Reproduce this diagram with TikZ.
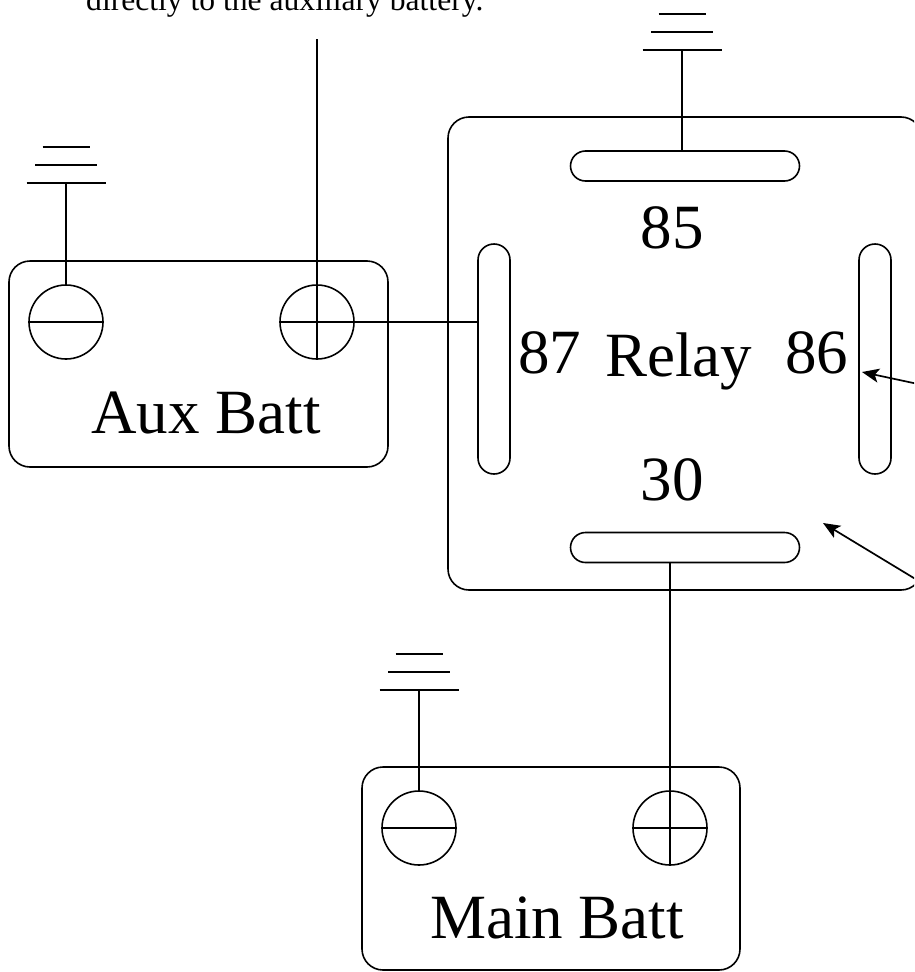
\documentclass[tikz,border=0pt]{standalone}
\usepackage{fontspec}
\setmainfont{Liberation Serif}
\usetikzlibrary{arrows.meta}
\begin{document}
\begin{tikzpicture}[x=1pt,y=-1pt,
  lw/.style={line width=1.6pt},
  box/.style={draw,lw,rectangle,rounded corners=21pt,inner sep=0pt},
  pinh/.style={draw,lw,rectangle,rounded corners=15pt,minimum width=229pt,minimum height=30pt,inner sep=0pt},
  pinv/.style={draw,lw,rectangle,rounded corners=16pt,minimum width=32pt,minimum height=230pt,inner sep=0pt},
  term/.style={draw,lw,circle,minimum size=74pt,inner sep=0pt},
  big/.style={inner sep=0pt,font=\fontsize{63}{70}\selectfont},
  wire/.style={lw},
  pointer/.style={line width=1.7pt,-{Stealth[length=17pt,width=14pt,inset=4pt]}},
  gnd/.pic={\draw[lw] (-39.5,0)--(39.5,0) (-31,-18)--(31,-18) (-23.5,-36)--(23.5,-36);}
]
\useasboundingbox (0,0) rectangle (914,972);
\clip (0,0) rectangle (914,972);

% top text (cut by the picture's upper edge, as in the reference)
\node[anchor=base west,inner sep=0pt,font=\fontsize{31.6}{36}\selectfont] (note) at (86,10) {directly to the auxiliary battery.};

% boxes
\node[box,minimum width=379pt,minimum height=206pt] (aux) at (198.5,364) {};
\node[box,minimum width=474pt,minimum height=473pt] (relay) at (685,353.5) {};
\node[box,minimum width=378pt,minimum height=203pt] (main) at (551,868.5) {};

% relay pins
\node[pinh] (p85) at (685,166) {};
\node[pinh] (p30) at (685,547.5) {};
\node[pinv] (p87) at (494,359) {};
\node[pinv] (p86) at (875,359) {};

% relay labels
\node[big,anchor=base] (l85) at (672,248) {85};
\node[big,anchor=base] (l30) at (672,500) {30};
\node[big,anchor=base west] (l87) at (518,373) {87};
\node[big,anchor=base west] (lrelay) at (605,376) {Relay};
\node[big,anchor=base west] (l86) at (785,373) {86};

% battery labels
\node[big,anchor=base] (laux) at (206,433) {Aux Batt};
\node[big,anchor=base] (lmain) at (557,938) {Main Batt};

% terminals
\node[term] (aneg) at (66,322) {};
\node[term] (apos) at (317,322) {};
\node[term] (mneg) at (419,828) {};
\node[term] (mpos) at (670,828) {};
\draw[wire] (aneg.west)--(aneg.east);
\draw[wire] (mneg.west)--(mneg.east);
\draw[wire] (mpos.west)--(mpos.east);
\draw[wire] (mpos.north)--(mpos.south);

% grounds
\coordinate (gA) at (66,183);
\coordinate (gR) at (682,50);
\coordinate (gM) at (419,690);
\pic at (gA) {gnd};
\pic at (gR) {gnd};
\pic at (gM) {gnd};
\draw[wire] (gA) -- (aneg.north);
\draw[wire] (gR) -- (gR |- p85.north);
\draw[wire] (gM) -- (mneg.north);

% aux positive wires
\coordinate (topw) at (317,39);
\draw[wire] (topw) -- (apos.south);
\draw[wire] (apos.west) -- (apos.west -| p87.west);

% pin 30 to main positive
\draw[wire] (p30.south -| mpos) -- (mpos.north);

% pointers from off-picture
\coordinate (a1) at (960,393);
\coordinate (a2) at (960,606);
\coordinate (t1) at (862,372);
\coordinate (t2) at (823,523);
\draw[pointer] (a1) -- (t1);
\draw[pointer] (a2) -- (t2);
\end{tikzpicture}
\end{document}
